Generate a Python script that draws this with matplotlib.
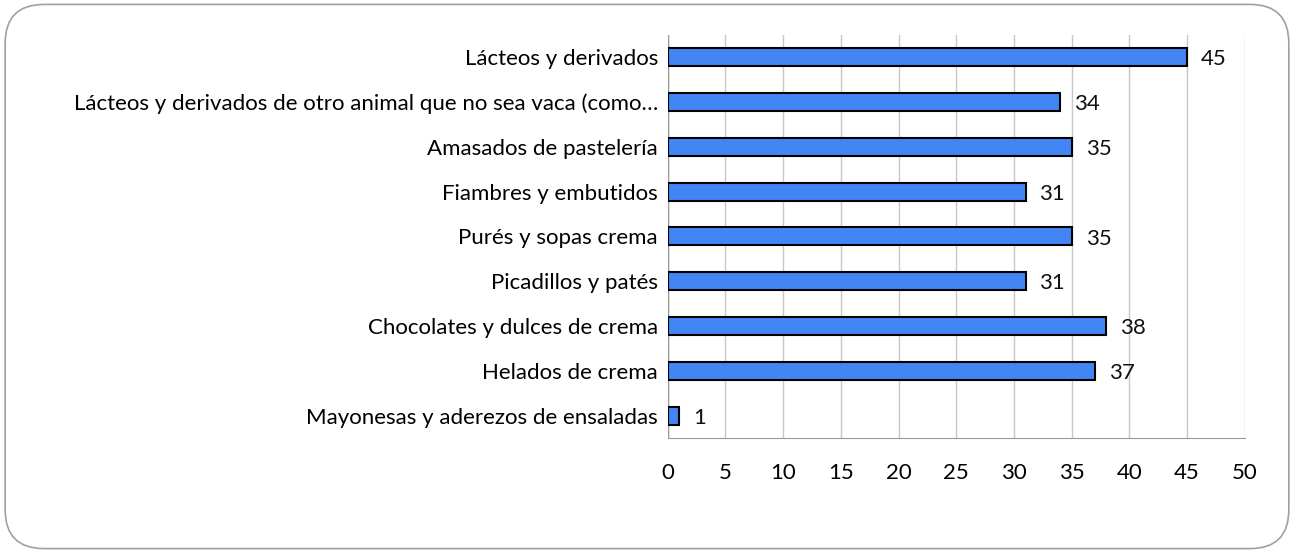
import matplotlib.pyplot as plt
from matplotlib.patches import FancyBboxPatch

categorias = [
    'Lácteos y derivados',
    'Lácteos y derivados de otro animal que no sea vaca (como…',
    'Amasados de pastelería',
    'Fiambres y embutidos',
    'Purés y sopas crema',
    'Picadillos y patés',
    'Chocolates y dulces de crema',
    'Helados de crema',
    'Mayonesas y aderezos de ensaladas',
]
valores = [45, 34, 35, 31, 35, 31, 38, 37, 1]
ticks_x = [0, 5, 10, 15, 20, 25, 30, 35, 40, 45, 50]

plt.rcParams['font.family'] = ['Lato', 'DejaVu Sans']

fig = plt.figure(figsize=(12.94, 5.53), dpi=100)
ax = fig.add_axes([0.516, 0.208, 0.446, 0.729])

y = list(range(len(categorias)))
ax.barh(y, valores, height=0.4, color='#4285F4', edgecolor='black', linewidth=1.5, zorder=3)
for yi, v in zip(y, valores):
    ax.text(v + 1.2, yi + 0.05, str(v), va='center', ha='left', fontsize=16, color='#111111')

ax.set_yticks(y)
ax.set_yticklabels(categorias, fontsize=16)
ax.set_ylim(len(categorias) - 0.5, -0.5)
ax.set_xlim(0, 50)
ax.set_xticks(ticks_x)
ax.set_xticklabels([str(t) for t in ticks_x], fontsize=16)
ax.tick_params(axis='both', length=0)
ax.tick_params(axis='x', pad=18)
ax.tick_params(axis='y', pad=7)
ax.grid(axis='x', color='#c8c8c8', linewidth=1, zorder=0)
for s in ['top', 'right', 'left']:
    ax.spines[s].set_visible(False)
ax.spines['bottom'].set_color('#999999')
ax.axvline(0, color='#999999', linewidth=1, zorder=2)

borde = FancyBboxPatch((0.004, 0.008), 0.992, 0.984,
                       boxstyle='round,pad=0,rounding_size=0.03',
                       transform=fig.transFigure, facecolor='none',
                       edgecolor='#a0a0a0', linewidth=1.2, mutation_aspect=1294/553)
fig.patches.append(borde)

fig.savefig('out.png', dpi=100)
